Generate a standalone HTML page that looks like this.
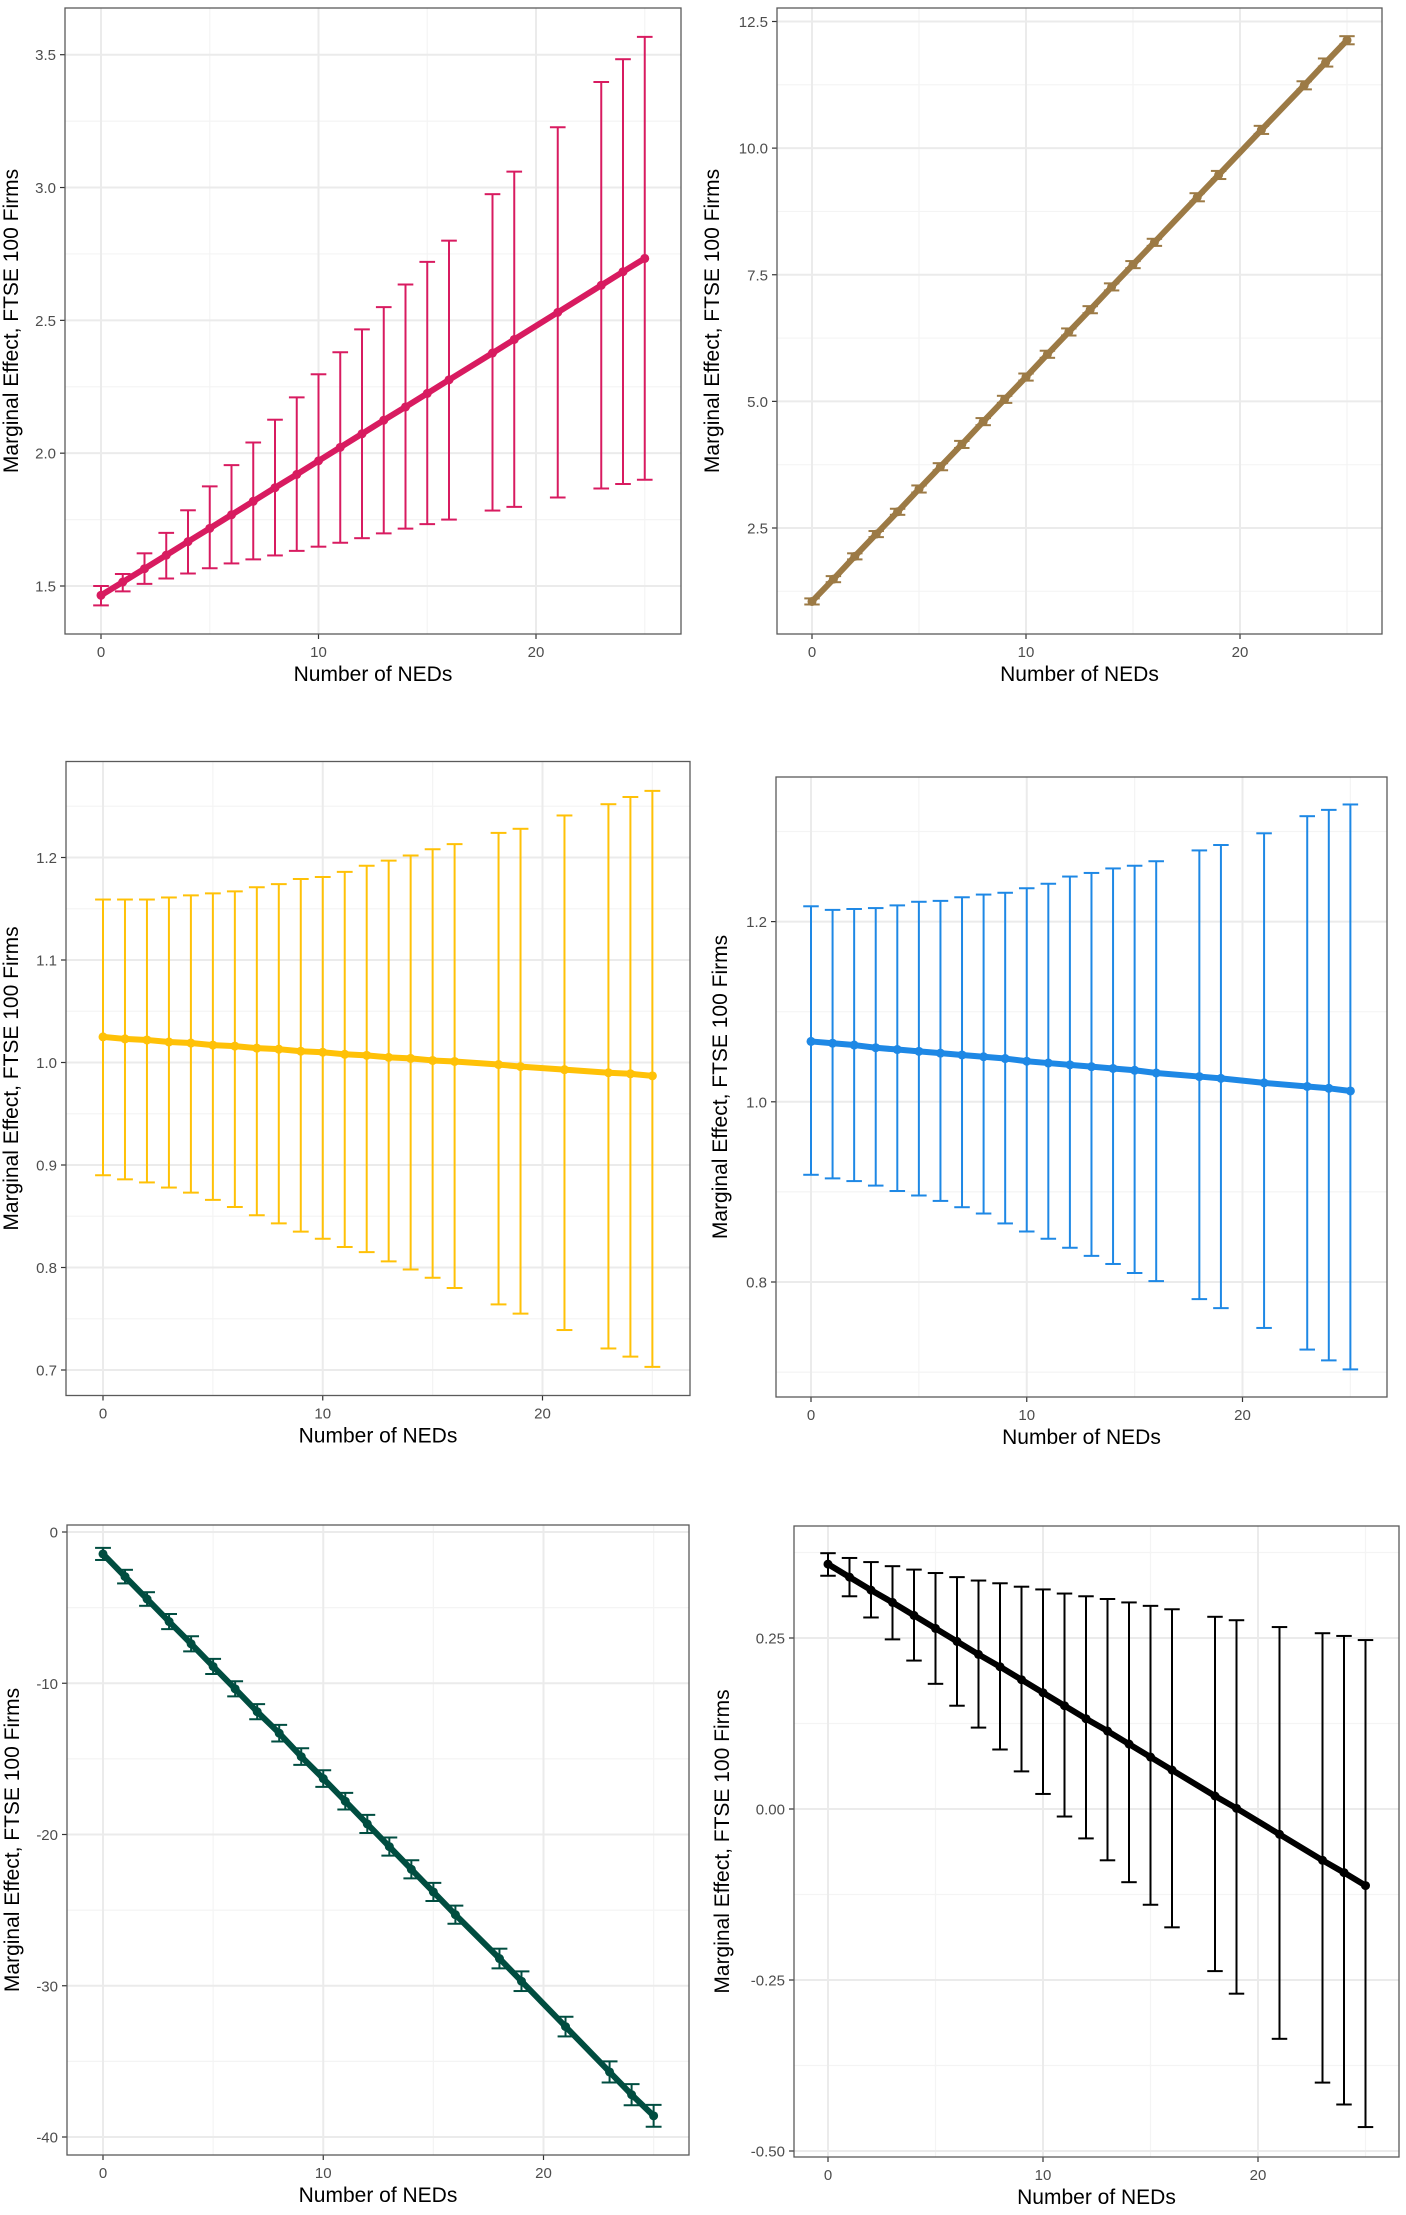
<!DOCTYPE html>
<html><head><meta charset="utf-8"><style>
html,body{margin:0;padding:0;background:#fff;}
svg{display:block;font-family:"Liberation Sans",Arial,sans-serif;}
</style></head>
<body>
<svg id="chart" width="1406" height="2215" viewBox="0 0 1406 2215" xmlns="http://www.w3.org/2000/svg"></svg>
<script>
const neds = [0,1,2,3,4,5,6,7,8,9,10,11,12,13,14,15,16,18,19,21,23,24,25];

const p1Mean = [1.465,1.515,1.565,1.616,1.667,1.717,1.768,1.819,1.87,1.92,1.971,2.022,2.073,2.124,2.174,2.225,2.276,2.377,2.428,2.53,2.632,2.683,2.733];
const p1Upper = [1.50,1.545,1.623,1.70,1.785,1.875,1.955,2.04,2.126,2.21,2.297,2.38,2.466,2.55,2.635,2.72,2.80,2.975,3.06,3.227,3.397,3.483,3.567];
const p1Lower = [1.427,1.48,1.508,1.528,1.547,1.567,1.585,1.60,1.615,1.632,1.648,1.663,1.68,1.698,1.716,1.733,1.75,1.784,1.798,1.833,1.867,1.884,1.90];
const p1Ticks = [1.5,2.0,2.5,3.0,3.5];
const p1TickLabels = ["1.5","2.0","2.5","3.0","3.5"];

const p2Mean = [1.05,1.49,1.94,2.38,2.82,3.27,3.71,4.15,4.60,5.04,5.48,5.93,6.37,6.81,7.26,7.70,8.14,9.03,9.47,10.36,11.24,11.69,12.13];
const p2Half = [0.06,0.06,0.06,0.06,0.06,0.07,0.07,0.07,0.07,0.07,0.07,0.07,0.07,0.07,0.07,0.07,0.07,0.08,0.08,0.08,0.08,0.08,0.08];
const p2Ticks = [2.5,5.0,7.5,10.0,12.5];
const p2TickLabels = ["2.5","5.0","7.5","10.0","12.5"];

const p3Mean = [1.025,1.023,1.022,1.020,1.019,1.017,1.016,1.014,1.013,1.011,1.010,1.008,1.007,1.005,1.004,1.002,1.001,0.998,0.996,0.993,0.990,0.989,0.987];
const p3Upper = [1.159,1.159,1.159,1.161,1.163,1.165,1.167,1.171,1.174,1.179,1.181,1.186,1.192,1.197,1.202,1.208,1.213,1.224,1.228,1.241,1.252,1.259,1.265];
const p3Lower = [0.890,0.886,0.883,0.878,0.873,0.866,0.859,0.851,0.843,0.835,0.828,0.820,0.815,0.806,0.798,0.790,0.780,0.764,0.755,0.739,0.721,0.713,0.703];
const p3Ticks = [0.7,0.8,0.9,1.0,1.1,1.2];
const p3TickLabels = ["0.7","0.8","0.9","1.0","1.1","1.2"];

const p4Mean = [1.067,1.065,1.063,1.060,1.058,1.056,1.054,1.052,1.050,1.048,1.045,1.043,1.041,1.039,1.037,1.035,1.032,1.028,1.026,1.021,1.017,1.015,1.012];
const p4Upper = [1.217,1.213,1.214,1.215,1.218,1.222,1.223,1.227,1.230,1.232,1.237,1.242,1.250,1.254,1.259,1.262,1.267,1.279,1.285,1.298,1.317,1.324,1.330];
const p4Lower = [0.919,0.915,0.912,0.907,0.901,0.896,0.890,0.883,0.876,0.865,0.856,0.848,0.838,0.829,0.820,0.810,0.801,0.781,0.771,0.749,0.725,0.713,0.703];
const p4Ticks = [0.8,1.0,1.2];
const p4TickLabels = ["0.8","1.0","1.2"];

const p5Mean = [-1.45,-2.95,-4.43,-5.92,-7.39,-8.89,-10.37,-11.88,-13.3,-14.85,-16.3,-17.8,-19.3,-20.8,-22.3,-23.8,-25.3,-28.2,-29.7,-32.7,-35.7,-37.2,-38.6];
const p5Half = [0.4,0.45,0.45,0.5,0.5,0.5,0.5,0.5,0.55,0.55,0.55,0.55,0.6,0.6,0.6,0.6,0.6,0.65,0.65,0.65,0.7,0.7,0.72];
const p5Ticks = [-40,-30,-20,-10,0];
const p5TickLabels = ["-40","-30","-20","-10","0"];

const p6Mean = [0.358,0.339,0.320,0.302,0.283,0.264,0.245,0.226,0.208,0.189,0.170,0.151,0.132,0.114,0.095,0.076,0.057,0.019,0.001,-0.037,-0.075,-0.093,-0.112];
const p6Upper = [0.374,0.367,0.361,0.355,0.350,0.345,0.339,0.334,0.330,0.325,0.321,0.315,0.311,0.307,0.302,0.297,0.292,0.281,0.276,0.266,0.257,0.253,0.247];
const p6Lower = [0.341,0.311,0.280,0.248,0.217,0.183,0.151,0.119,0.087,0.055,0.022,-0.011,-0.043,-0.075,-0.107,-0.14,-0.173,-0.237,-0.270,-0.336,-0.400,-0.432,-0.465];
const p6Ticks = [-0.5,-0.25,0,0.25];
const p6TickLabels = ["-0.50","-0.25","0.00","0.25"];

const xTicks = [0,10,20];
const xTickLabels = ["0","10","20"];
const xMinor = [5,15,25];

const NS = "http://www.w3.org/2000/svg";
const svg = document.getElementById("chart");
function mk(tag, parent, attrs){
  const e = document.createElementNS(NS, tag);
  for (const k in attrs) e.setAttribute(k, attrs[k]);
  parent.appendChild(e);
  return e;
}

function drawPanel(cfg){
  const g = mk("g", svg, {});
  
  
  const L=cfg.box[0], R=cfg.box[1], T=cfg.box[2], B=cfg.box[3];
  const xs = v => cfg.xpx0 + (v - 0) * (cfg.xpx20 - cfg.xpx0) / 20;
  const ys = v => cfg.ypxA + (v - cfg.yvA) * (cfg.ypxB - cfg.ypxA) / (cfg.yvB - cfg.yvA);
  const yv = p => cfg.yvA + (p - cfg.ypxA) * (cfg.yvB - cfg.yvA) / (cfg.ypxB - cfg.ypxA);
  // minor y grid
  const step = cfg.ticks[1] - cfg.ticks[0];
  const yMin = yv(B), yMax = yv(T);
  for (let v = cfg.ticks[0] - step/2; v <= yMax; v += step){
    if (v < yMin) continue;
    const l = mk("line", g, {x1:L,x2:R,y1:ys(v),y2:ys(v),stroke:"#f4f4f4","stroke-width":1.2});
    
    
  }
  xMinor.forEach(v=>{
    const l = mk("line", g, {x1:xs(v),x2:xs(v),y1:T,y2:B,stroke:"#f4f4f4","stroke-width":1.2});
    
    
  });
  cfg.ticks.forEach((v,i)=>{
    const l = mk("line", g, {x1:L,x2:R,y1:ys(v),y2:ys(v),stroke:"#ebebeb","stroke-width":2});
    
    
    const tk = mk("line", g, {x1:L-5,x2:L,y1:ys(v),y2:ys(v),stroke:"#333","stroke-width":1.2});
    
    
    const t = mk("text", g, {x:L-9,y:ys(v)+5.5,"text-anchor":"end","font-size":15,fill:"#4d4d4d"});
    t.textContent = cfg.tickLabels[i];
    
    
  });
  xTicks.forEach((v,i)=>{
    const l = mk("line", g, {x1:xs(v),x2:xs(v),y1:T,y2:B,stroke:"#ebebeb","stroke-width":2});
    
    
    const tk = mk("line", g, {x1:xs(v),x2:xs(v),y1:B,y2:B+5,stroke:"#333","stroke-width":1.2});
    
    
    const t = mk("text", g, {x:xs(v),y:B+23,"text-anchor":"middle","font-size":15,fill:"#4d4d4d"});
    t.textContent = xTickLabels[i];
    
    
  });
  // error bars
  const capHalf = 0.36;
  neds.forEach((x,i)=>{
    const lo = cfg.lower ? cfg.lower[i] : cfg.mean[i] - cfg.half[i];
    const hi = cfg.upper ? cfg.upper[i] : cfg.mean[i] + cfg.half[i];
    const eg = mk("g", g, {stroke:cfg.color,"stroke-width":cfg.ebw});
    
    
    mk("line", eg, {x1:xs(x),x2:xs(x),y1:ys(lo),y2:ys(hi)});
    mk("line", eg, {x1:xs(x-capHalf),x2:xs(x+capHalf),y1:ys(lo),y2:ys(lo)});
    mk("line", eg, {x1:xs(x-capHalf),x2:xs(x+capHalf),y1:ys(hi),y2:ys(hi)});
  });
  const pts = neds.map((x,i)=>xs(x).toFixed(2)+","+ys(cfg.mean[i]).toFixed(2)).join(" ");
  const pl = mk("polyline", g, {points:pts,fill:"none",stroke:cfg.color,"stroke-width":cfg.lw,"stroke-linejoin":"round","stroke-linecap":"round"});
  
  
  neds.forEach((x,i)=>{
    const c = mk("circle", g, {cx:xs(x),cy:ys(cfg.mean[i]),r:cfg.pr,fill:cfg.color});
    
    
  });
  const border = mk("rect", g, {x:L,y:T,width:R-L,height:B-T,fill:"none",stroke:"#5a5a5a","stroke-width":1.3});
  
  
  const xt = mk("text", g, {x:(L+R)/2,y:B+47,"text-anchor":"middle","font-size":21,fill:"#000"});
  xt.textContent = "Number of NEDs";
  
  
  const cy = (T+B)/2;
  const yt = mk("text", g, {x:cfg.ytx,y:cy,"text-anchor":"middle","font-size":21,fill:"#000",transform:"rotate(-90 "+cfg.ytx+" "+cy+")"});
  yt.textContent = "Marginal Effect, FTSE 100 Firms";
  
  
}

drawPanel({name:"panel-top-left",box:[65,681,8,634],xpx0:101,xpx20:536,yvA:1.5,ypxA:586,yvB:3.5,ypxB:54.7,
  ticks:p1Ticks,tickLabels:p1TickLabels,mean:p1Mean,upper:p1Upper,lower:p1Lower,color:"#D81B60",lw:6,ebw:2,pr:4.5,ytx:18});
drawPanel({name:"panel-top-right",box:[777,1382,8,634],xpx0:812,xpx20:1240,yvA:2.5,ypxA:528,yvB:12.5,ypxB:21.5,
  ticks:p2Ticks,tickLabels:p2TickLabels,mean:p2Mean,half:p2Half,color:"#9C7A45",lw:6,ebw:2,pr:4.5,ytx:719});
drawPanel({name:"panel-middle-left",box:[66,690,761.5,1395.5],xpx0:103,xpx20:542.5,yvA:0.7,ypxA:1370,yvB:1.2,ypxB:857.5,
  ticks:p3Ticks,tickLabels:p3TickLabels,mean:p3Mean,upper:p3Upper,lower:p3Lower,color:"#FFC107",lw:6,ebw:2,pr:4.5,ytx:18});
drawPanel({name:"panel-middle-right",box:[776,1387,777,1397],xpx0:811,xpx20:1242.5,yvA:0.8,ypxA:1282,yvB:1.2,ypxB:921.6,
  ticks:p4Ticks,tickLabels:p4TickLabels,mean:p4Mean,upper:p4Upper,lower:p4Lower,color:"#1E88E5",lw:6,ebw:2,pr:4.5,ytx:727});
drawPanel({name:"panel-bottom-left",box:[67,689,1525,2155],xpx0:103,xpx20:543.5,yvA:-40,ypxA:2137,yvB:0,ypxB:1532,
  ticks:p5Ticks,tickLabels:p5TickLabels,mean:p5Mean,half:p5Half,color:"#004D40",lw:6,ebw:2,pr:4.5,ytx:19});
drawPanel({name:"panel-bottom-right",box:[794,1399,1526,2157],xpx0:828,xpx20:1258,yvA:-0.5,ypxA:2151,yvB:0.25,ypxB:1638,
  ticks:p6Ticks,tickLabels:p6TickLabels,mean:p6Mean,upper:p6Upper,lower:p6Lower,color:"#000000",lw:6,ebw:2,pr:4.5,ytx:729});
</script>
</body></html>
